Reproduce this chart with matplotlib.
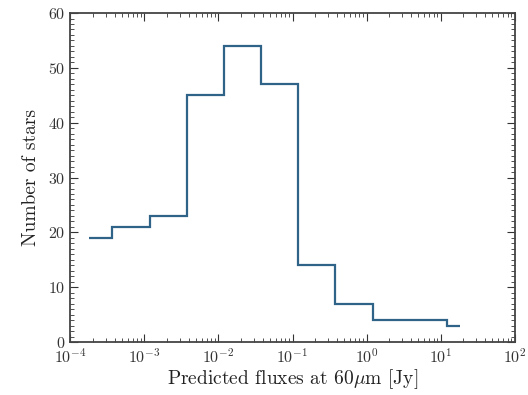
import matplotlib
matplotlib.use("Agg")
import matplotlib.pyplot as plt
import numpy as np
from matplotlib.ticker import MultipleLocator, LogLocator

# bin edges in log10(flux / Jy) and star counts per bin
log_edges = [-3.74, -3.44, -2.93, -2.43, -1.93, -1.42, -0.92, -0.42, 0.08, 0.58, 1.08, 1.26]
counts = [19, 21, 23, 45, 54, 47, 14, 7, 4, 4, 3]

plt.rcParams['font.family'] = 'serif'
plt.rcParams['font.serif'] = ['cmr10', 'DejaVu Serif']
plt.rcParams['mathtext.fontset'] = 'cm'
plt.rcParams['axes.formatter.use_mathtext'] = True

fig = plt.figure(figsize=(5.28, 3.95), dpi=100)
ax = fig.add_axes([0.133, 0.134, 0.842, 0.833])

ax.stairs(counts, 10 ** np.array(log_edges), baseline=None, color='#2f6488', linewidth=1.6)

ax.set_xscale('log')
ax.set_xlim(1e-4, 1e2)
ax.set_ylim(0, 60)
ax.xaxis.set_major_locator(LogLocator(base=10, numticks=10))
ax.xaxis.set_minor_locator(LogLocator(base=10, subs=np.arange(2, 10), numticks=20))
ax.yaxis.set_major_locator(MultipleLocator(10))
ax.yaxis.set_minor_locator(MultipleLocator(1))
ax.tick_params(which='both', direction='in', top=True, right=True, labelsize=11.5, colors='#333333')
ax.tick_params(which='major', length=6)
ax.tick_params(which='minor', length=3)

ax.set_xlabel(r'Predicted fluxes at 60$\mu$m [Jy]', fontsize=14, color='#222222', labelpad=1)
ax.set_ylabel('Number of stars', fontsize=14, color='#222222', labelpad=6)
for s in ax.spines.values():
    s.set_linewidth(1.3)
    s.set_color('#444444')

fig.savefig('out.png', dpi=100)
